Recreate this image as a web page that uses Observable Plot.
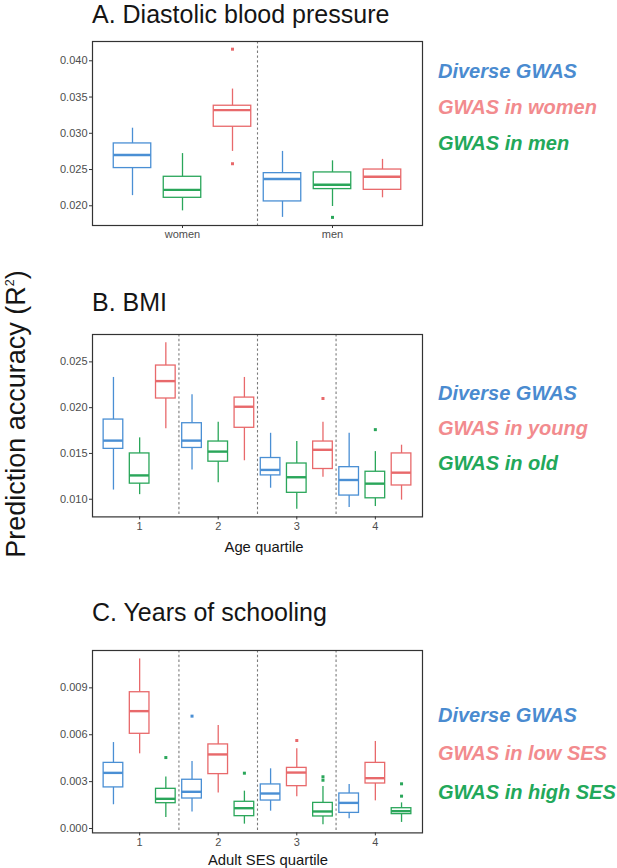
<!DOCTYPE html>
<html>
<head>
<meta charset="utf-8">
<script src="https://cdn.jsdelivr.net/npm/d3@7"></script>
<script src="https://cdn.jsdelivr.net/npm/@observablehq/plot@0.6"></script>
<style>
  html, body { margin: 0; padding: 0; background: #fff; }
  body { width: 617px; height: 868px; position: relative; overflow: hidden;
         font-family: "Liberation Sans", Arial, Helvetica, sans-serif; }
  .abs { position: absolute; white-space: nowrap; line-height: 1; }
  .title { left: 92px; font-size: 25px; color: #151515; line-height: normal; }
  .leg { left: 438px; font-size: 20px; font-weight: bold; font-style: italic; transform-origin: left center; }
  .xlab { font-size: 14.8px; color: #151515; transform: translateX(-50%); }
  .ylab { font-size: 27px; color: #151515; line-height: normal; transform: translate(-50%, -50%) rotate(-90deg); }
  .ylab sup { font-size: 12.5px; vertical-align: 10.5px; line-height: 0; }
  .panel { position: absolute; left: 0; }
</style>
</head>
<body>
<script>
// ---------- data ----------
const legendColors = ["#4a8bd0", "#f28b8e", "#22a85a"];

// Panel A
const A_title = "A. Diastolic blood pressure";
const A_categories = ["women", "men"];
const A_series = ["Diverse GWAS", "GWAS in men", "GWAS in women"];   // dodge order
const A_seriesColor = ["#4a8fd4", "#2aa65a", "#e8696b"];
const A_legend = ["Diverse GWAS", "GWAS in women", "GWAS in men"];
// [lower whisker, Q1, median, Q3, upper whisker] per category x series
const A_stats = [
  [0.0214, 0.0252, 0.0270, 0.0286, 0.0307],
  [0.0193, 0.0211, 0.0222, 0.0240, 0.0272],
  [0.0275, 0.0309, 0.0332, 0.0338, 0.0361],
  [0.0184, 0.0206, 0.0237, 0.0245, 0.0275],
  [0.0199, 0.0223, 0.0229, 0.0246, 0.0262],
  [0.0211, 0.0222, 0.0240, 0.0250, 0.0264]
];
const A_outliers = [[1, 2, 0.0416], [1, 2, 0.0258], [2, 1, 0.0184]]; // [category, series index, value]
const A_yTicks = [0.020, 0.025, 0.030, 0.035, 0.040];
const A_yDomain = [0.01728, 0.04266];

// Panel B
const B_title = "B. BMI";
const B_categories = ["1", "2", "3", "4"];
const B_series = ["Diverse GWAS", "GWAS in old", "GWAS in young"];
const B_seriesColor = ["#4a8fd4", "#2aa65a", "#e8696b"];
const B_legend = ["Diverse GWAS", "GWAS in young", "GWAS in old"];
const B_stats = [
  [0.0110, 0.0155, 0.0164, 0.0187, 0.0233],
  [0.0105, 0.0117, 0.0126, 0.0150, 0.0167],
  [0.0177, 0.0210, 0.0229, 0.0246, 0.0271],
  [0.0132, 0.0156, 0.0164, 0.0183, 0.0214],
  [0.0118, 0.0141, 0.0152, 0.0163, 0.0184],
  [0.0142, 0.0178, 0.0201, 0.0211, 0.0233],
  [0.0112, 0.0126, 0.0132, 0.0145, 0.0172],
  [0.0089, 0.0107, 0.0124, 0.0139, 0.0163],
  [0.0124, 0.0133, 0.0154, 0.0163, 0.0184],
  [0.0091, 0.0104, 0.0121, 0.0135, 0.0172],
  [0.0092, 0.0101, 0.0117, 0.0130, 0.0152],
  [0.0099, 0.0115, 0.0129, 0.0150, 0.0159]
];
const B_outliers = [[3, 2, 0.0210], [4, 1, 0.0176]];
const B_yTicks = [0.010, 0.015, 0.020, 0.025];
const B_yDomain = [0.00807, 0.02799];
const B_xLabel = "Age quartile";

// Panel C
const C_title = "C. Years of schooling";
const C_categories = ["1", "2", "3", "4"];
const C_series = ["Diverse GWAS", "GWAS in low SES", "GWAS in high SES"];
const C_seriesColor = ["#4a8fd4", "#e8696b", "#2aa65a"];
const C_legend = ["Diverse GWAS", "GWAS in low SES", "GWAS in high SES"];
const C_stats = [
  [0.00152, 0.00263, 0.00356, 0.00420, 0.00550],
  [0.00478, 0.00606, 0.00751, 0.00872, 0.01085],
  [0.00071, 0.00162, 0.00190, 0.00254, 0.00329],
  [0.00105, 0.00192, 0.00235, 0.00312, 0.00429],
  [0.00228, 0.00348, 0.00474, 0.00538, 0.00659],
  [0.00028, 0.00079, 0.00130, 0.00171, 0.00239],
  [0.00111, 0.00179, 0.00224, 0.00282, 0.00382],
  [0.00203, 0.00271, 0.00358, 0.00388, 0.00510],
  [0.00024, 0.00077, 0.00109, 0.00164, 0.00269],
  [0.00062, 0.00100, 0.00164, 0.00224, 0.00282],
  [0.00177, 0.00288, 0.00322, 0.00420, 0.00557],
  [0.00039, 0.00092, 0.00111, 0.00130, 0.00164]
];
const C_outliers = [[1, 2, 0.00454], [2, 0, 0.00719], [2, 2, 0.00354], [3, 1, 0.00563],
                    [3, 2, 0.00331], [3, 2, 0.00309], [4, 2, 0.00286], [4, 2, 0.00207]];
const C_yTicks = [0.000, 0.003, 0.006, 0.009];
const C_yDomain = [-0.00028, 0.01139];
const C_xLabel = "Adult SES quartile";

const yTitle = "Prediction accuracy (R<sup>2</sup>)";

// ---------- drawing ----------
const FONT = "'Liberation Sans', Arial, Helvetica, sans-serif";

function panel(cfg) {
  const n = cfg.categories.length;
  const boxes = cfg.stats.map((s, i) => ({
    cat: Math.floor(i / 3) + 1, j: i % 3, series: cfg.series[i % 3],
    lo: s[0], q1: s[1], med: s[2], q3: s[3], hi: s[4]
  }));
  const outs = cfg.outliers.map(([c, j, v]) => ({cat: c, j, series: cfg.series[j], value: v}));
  const pos = d => d.cat + (d.j - 1) / 3;
  const half = 0.125;
  const separators = d3.range(1, n).map(i => i + 0.5);
  return Plot.plot({
    width: 430,
    height: cfg.height,
    marginLeft: 92, marginRight: 8, marginTop: 10, marginBottom: cfg.marginBottom,
    style: {fontFamily: FONT, fontSize: "11px", color: "#4d4d4d", background: "white", overflow: "visible"},
    x: {domain: [0.4, n + 0.6], label: null},
    y: {domain: cfg.yDomain, label: null},
    color: {domain: cfg.series, range: cfg.seriesColor},
    marks: [
      Plot.ruleX(separators, {x: d => d, stroke: "#7a7a7a", strokeWidth: 1.1, strokeDasharray: "2.4,2.4"}),
      Plot.ruleX(boxes, {x: pos, y1: "lo", y2: "hi", stroke: "series", strokeWidth: 1.3}),
      Plot.rect(boxes, {x1: d => pos(d) - half, x2: d => pos(d) + half, y1: "q1", y2: "q3",
                        fill: "white", stroke: "series", strokeWidth: 1.3}),
      Plot.ruleY(boxes, {x1: d => pos(d) - half, x2: d => pos(d) + half, y: "med",
                         stroke: "series", strokeWidth: 2.4}),
      Plot.dot(outs, {x: pos, y: "value", fill: "series", symbol: "square", r: 1.7}),
      Plot.frame({stroke: "#333", strokeWidth: 1.2}),
      Plot.axisY({ticks: cfg.yTicks, tickFormat: d3.format(".3f"), tickSize: 3, tickPadding: 2,
                  label: null, stroke: "#333"}),
      Plot.axisX({ticks: d3.range(1, n + 1), tickFormat: i => cfg.categories[i - 1], tickSize: 3,
                  tickPadding: 2, label: null, stroke: "#333"})
    ]
  });
}

function addDiv(cls, html, style) {
  const d = document.createElement("div");
  d.className = "abs " + cls;
  d.innerHTML = html;
  Object.assign(d.style, style);
  document.body.appendChild(d);
  return d;
}

function addPanel(cfg, top) {
  const p = panel(cfg);
  const wrap = document.createElement("div");
  wrap.className = "panel";
  wrap.style.top = top + "px";
  wrap.appendChild(p);
  document.body.appendChild(wrap);
}

addPanel({categories: A_categories, series: A_series, seriesColor: A_seriesColor, stats: A_stats,
          outliers: A_outliers, yTicks: A_yTicks, yDomain: A_yDomain, height: 219, marginBottom: 25}, 31);
addPanel({categories: B_categories, series: B_series, seriesColor: B_seriesColor, stats: B_stats,
          outliers: B_outliers, yTicks: B_yTicks, yDomain: B_yDomain, height: 217.4, marginBottom: 25}, 324.3);
addPanel({categories: C_categories, series: C_series, seriesColor: C_seriesColor, stats: C_stats,
          outliers: C_outliers, yTicks: C_yTicks, yDomain: C_yDomain, height: 217.4, marginBottom: 25}, 640.3);

// titles
addDiv("title", A_title, {top: "0px"});
addDiv("title", B_title, {top: "288px"});
addDiv("title", C_title, {top: "598px"});

// x axis titles
addDiv("xlab", B_xLabel, {left: "264px", top: "539.5px"});
addDiv("xlab", C_xLabel, {left: "268px", top: "852.5px"});

// y axis title
addDiv("ylab", yTitle, {left: "15.8px", top: "414px"});

// legends
const legendTops = {
  A: [61.4, 97.1, 133.1],
  B: [383.1, 418.1, 453.1],
  C: [705.1, 743.1, 782.1]
};
[["A", A_legend], ["B", B_legend], ["C", C_legend]].forEach(([k, names]) => {
  names.forEach((name, i) => {
    addDiv("leg", name, {top: legendTops[k][i] + "px", color: legendColors[i]});
  });
});
</script>
</body>
</html>
